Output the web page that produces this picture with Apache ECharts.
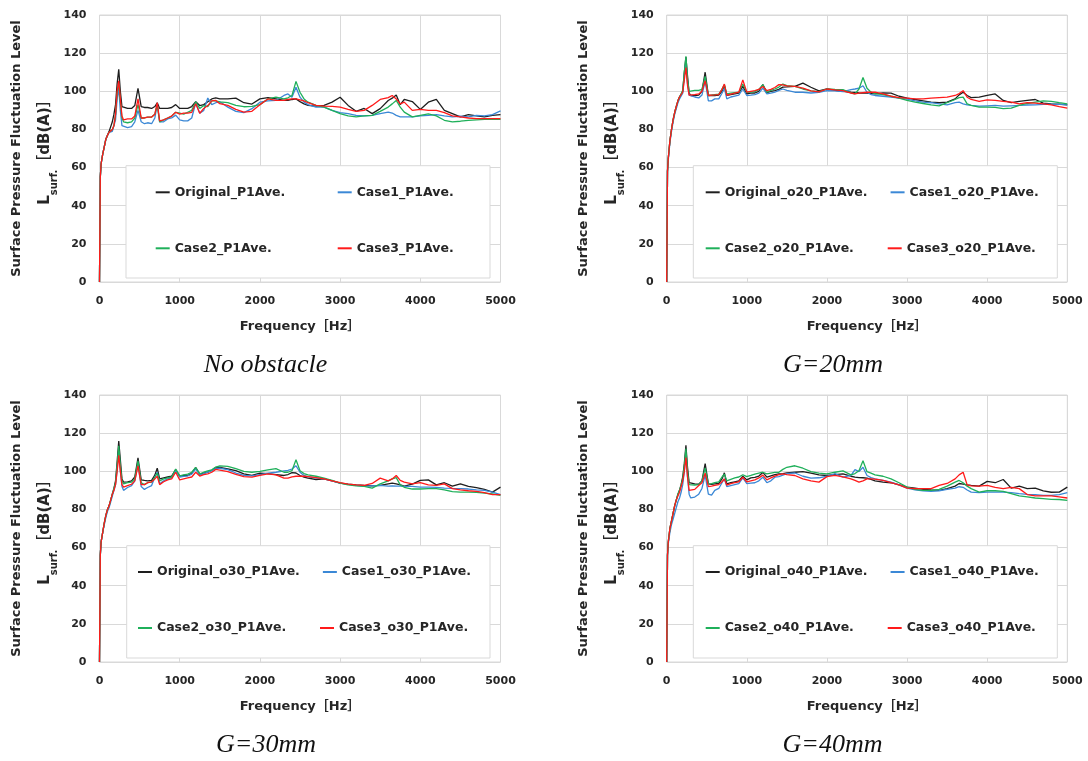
<!DOCTYPE html>
<html><head><meta charset="utf-8">
<script src="https://cdn.jsdelivr.net/npm/echarts@6.0.0/dist/echarts.min.js"></script>
<style>html,body{margin:0;padding:0;background:#fff}#c{width:1088px;height:761px}</style>
</head><body><div id="c"></div>
<script>
// ---------- DATA ----------
const FREQ = [0,10,20,40,60,80,100,120,140,160,180,200,
  220,240,260,280,300,350,400,440,480,520,560,600,650,690,720,750,800,850,900,950,1000,1050,1100,1150,1200,1250,1300,1350,1400,1450,1500,
  1600,1700,1800,1900,2000,2100,2200,2300,2350,2400,2450,2500,2550,2600,2700,2800,2900,3000,3100,3200,3300,3400,3500,3600,3650,3700,3750,3800,3900,4000,4100,4200,4300,4400,4500,4600,4700,4800,4900,5000];

const CAPTIONS = ['No obstacle','G=20mm','G=30mm','G=40mm'];
const NAMES_P1 = ['Original_P1Ave.','Case1_P1Ave.','Case2_P1Ave.','Case3_P1Ave.'];
const NAMES_P2 = ['Original_o20_P1Ave.','Case1_o20_P1Ave.','Case2_o20_P1Ave.','Case3_o20_P1Ave.'];
const NAMES_P3 = ['Original_o30_P1Ave.','Case1_o30_P1Ave.','Case2_o30_P1Ave.','Case3_o30_P1Ave.'];
const NAMES_P4 = ['Original_o40_P1Ave.','Case1_o40_P1Ave.','Case2_o40_P1Ave.','Case3_o40_P1Ave.'];

// Panel 1: No obstacle
const P1_ORIGINAL = [0,55,62,67,71,75,77,79,80,84,88,93,
  104,111.5,100,92,91,91,91,92.5,101.5,92,91.5,91.5,91,92,94,91,91,91,91.5,93,91,91,91,92,94.5,92.5,93,94.5,96,96.5,96,
  96,96.4,94,93.3,96,96.7,96,95.2,95.3,95.7,96,94.6,93.4,92.6,92.2,92.6,94.3,96.9,92.6,89.5,91,88.3,90.9,95.2,96.4,98.1,93,95.7,94.6,90.5,94.3,95.7,90,88.3,86.6,87.8,87.1,86.6,87.4,87.8];
const P1_CASE1 = [0,55,62,67,71,75,77,78.5,79,79,80,85,
  96,101.5,90,82,81.5,81,81.5,84,90,84,83,83.5,83,86,93,84,84,85.5,86,87.5,85,84.5,84.5,86,94,88.5,90,96.5,93,94,94.5,
  91.7,89.5,88.8,90.9,94.3,95,95.2,97.8,98.6,96.9,102.1,96.9,94.3,93,91.7,91.7,90,88.8,88.3,87.4,87.1,87.4,88.3,89.1,88.6,87.4,86.6,86.6,86.6,87.1,87.4,87.8,87.1,86.6,86.9,86.6,87.4,87.1,87.8,89.7];
const P1_CASE2 = [0,55,62,67,71,75,77,78.5,79,80,82,88,
  99,104,95,86,84,83.5,84,86,93,86,86,86.5,86.5,88,93,84,85,86,87,89,88.5,88,89,90,94.5,91,92.5,92,95,95,94.5,
  94,92.6,91.9,92.1,93,96,96.9,96,96.6,97.8,105.2,99.5,96,94.3,92.6,91.7,90,88.3,87.1,86.6,87.1,87.4,89.5,91.7,93.4,95.2,91.7,89.1,86.6,87.4,88.1,87.1,84.8,84,84.3,84.7,85,85.3,85.3,85.3];
const P1_CASE3 = [0,55,62,67,71,75,77,78.5,79,80,82,88,
  100,105.5,96,87,85,85.5,85.5,87,96,86,86,86.5,86.5,88,94,84.5,85,86,87,89,88,88.5,88.5,89,93.5,88.5,91,92.5,95,95.2,93.5,
  92.6,90.5,89.1,89.5,93,96,95.2,95.2,95.7,96,96,95.5,95,94,92.6,92.2,92.1,91.7,90.5,89.5,90,92.6,95.7,96.7,97.8,96,93.4,94.3,90,90.5,90,90,88.8,87.1,86.6,86,85.7,85.7,85.7,85.7];

// Panel 2: G=20mm
const P2_ORIGINAL = [0,58,65,74,80,85,89,92,95,97,98,100,
  110,118,108,99,97.8,97.8,98,100,110,97.8,97.8,97.8,98,100,103,97.8,98.3,98.6,99,102.6,98.6,99,99.1,100,103.5,99.3,100,100.3,101,102.2,102.3,
  102.6,104.3,102.1,100.2,101.2,100.5,100,99.5,99.4,99.1,99,99,98.8,98.6,99.1,99,97.4,96.4,95.7,95,94.3,94,94.3,96,98.1,99.5,97.8,96.7,96.9,97.8,98.6,95.2,94,94.7,95.2,95.7,93.8,93.4,93.3,92.9];
const P2_CASE1 = [0,58,64,73,79,84,88,91,94,96,97,99,
  108,116,104,98,97.8,97,96.5,98,105.5,95,95,96,96,99,101.5,96,97,97.5,98,101.2,97.8,98,98.3,99,101.7,98.6,99,99.5,100.5,101.2,100.5,
  99.5,99.5,99.1,99.5,100.3,100.2,99.8,100.9,101.2,101.6,102.9,99.5,98.3,97.8,97.4,96.9,96.4,95.9,95,94.3,94,93.4,92.9,94,94.3,93.4,92.9,92.6,92.2,92.4,92.6,92.2,92.4,92.6,92.8,92.9,93.1,93.3,93.1,92.9];
const P2_CASE2 = [0,58,65,74,80,85,89,92,95,97,98.5,100.5,
  110,118.4,106,100,101,100.5,100.5,101,107.8,97.8,98,98.3,98.5,101,103.5,98.6,99,99.3,99.5,103.8,99.5,99.6,99.8,101,103.4,99.5,100.5,101.2,102.2,103.8,103,
  102.6,101.2,100.2,99.8,101.2,101,100.9,99.1,98.6,101.2,107.2,101.6,99.5,98.8,98.3,97.4,96.4,95.2,94.3,93.6,92.9,92.4,94,95.7,96.7,96.9,93.4,92.6,91.7,91.7,91.6,90.9,91.2,92.6,93.6,94.3,95,94.7,94,93.4];
const P2_CASE3 = [0,58,65,74,80,85,89,92,95,97,98,99.5,
  106,112.4,103,98,97.8,98.3,98.6,100,105.5,97.8,98,98.1,98.3,101,103.8,97.8,98.5,99,99.5,106,99.5,100,100.3,101,102.5,100.3,101,102,103.5,103.4,102.8,
  102.6,101.6,100.2,99.7,101.2,100.7,100.3,99.1,98.6,99,99.3,99.5,99.5,99.5,98.6,97.4,96.7,96.4,96,96,96.4,96.7,96.9,97.8,98.8,100.3,96.9,95.7,94.7,95.5,95.2,94.7,94.3,93.4,94,93.8,93.4,92.9,91.9,91.2];

// Panel 3: G=30mm
const P3_ORIGINAL = [0,56,63,68,73,77,80,82,85,88,91,95,
  105,115.9,106,96,94.3,94.5,95,97,107,95.5,95.2,95,95.2,98,101.6,96,96.5,97,97.5,100.9,97.5,97.8,97.8,99,102,98.5,99,99.5,100.5,102,102,
  101.2,100.3,98.6,97.8,99,98.8,98.3,97.8,98.3,99.3,99.1,97.8,96.9,96.4,95.7,96,95,93.8,93.3,92.9,92.6,92.4,92.6,93.4,93.8,93.4,92.9,92.2,93.3,95.2,95.5,92.9,94,92.2,93.4,92.1,91.4,90.5,89.1,91.7];
const P3_CASE1 = [0,56,63,68,72,76,79,81,84,87,90,93,
  101,110.7,100,92,90,91.5,92.5,95,103.8,92,90.5,91.5,92.5,97,99.5,93.5,95,96,96.5,100.3,97,97.3,97.6,98.5,101.3,98,98.8,99.6,100.3,101.5,101.6,
  100.9,99.1,97.9,97.6,98.3,99,99.5,100.2,100.5,101.2,102.9,99.5,97.8,97.1,96.6,96,95,93.8,93.1,92.6,92.2,92.4,92.6,92.2,92.4,92.2,92.2,92.1,92.1,91.7,91.7,91.6,91.2,91,90.9,90.7,90.3,90,89.1,87.8];
const P3_CASE2 = [0,56,63,68,73,77,80,82,85,88,91,94,
  103,113.3,103,95,93.4,94,94.3,96,105.5,94,93,94,94.3,97,99,95,96,96.5,97,101.2,97.6,98.1,98.5,99.5,102,98.6,99.5,100.2,100.8,102.2,102.8,
  102.6,101.4,100,99.5,100,100.7,101.4,99.5,99.5,100.3,106,100.3,98.8,98.1,97.4,96.4,95.2,93.8,92.9,92.4,92.1,91.2,93.4,95,96,96.7,92.9,91.6,90.7,90.7,90.9,90.9,90.3,89.3,89.1,89.1,89,88.6,88.1,87.4];
const P3_CASE3 = [0,56,63,68,73,77,80,82,85,88,90,93,
  100,108.4,100,93,91.7,92.5,93.2,95,102.8,93,93,94,94.5,96,97.4,93,94.5,95.5,96,99.5,95.5,96,96.5,97,99.5,97.5,98.2,98.6,99.5,101,100.6,
  99.8,98.4,97.2,96.9,97.8,98.6,98.1,96.4,96.4,97.1,97.4,97.4,97.4,97.2,96.7,96,95,94,93.3,92.9,92.6,93.6,96.4,95,96,97.8,95.2,94.3,93.4,94,92.9,92.6,93.4,90.9,90.3,89.8,89.5,88.8,87.8,87.8];

// Panel 4: G=40mm
const P4_ORIGINAL = [0,56,63,70,74,78,82,85,88,90,93,97,
  104,113.6,102,94,93.4,93.4,93.2,95,104,93.4,93.2,93.4,93.6,96,99.2,93.4,94,94.5,95,97.4,95.5,96.5,96.8,97.5,99.4,96.9,97.6,98.3,98.6,98.8,99.2,
  99.5,99.8,99,98.1,97.8,98.3,98.6,97.4,96.9,96.7,96.6,96.4,95.7,95,94.3,94,92.9,91.7,91.2,90.5,90.2,90,90.9,92.2,93.6,93.3,92.9,92.6,92.2,94.7,94,95.7,91.2,92.2,90.9,91.2,89.7,89,89.1,91.7];
const P4_CASE1 = [0,56,62,68,72,75,78,81,84,86,89,93,
  100,109,97,88,86,86.5,88,91,98,88,87.5,90,91,94,96,92,92.5,93,93.5,96.5,93.5,93.8,94,95,96.9,94,95,96.9,97.2,98,98.8,
  99.1,97.4,96.4,96.6,97.4,98.8,96.9,97.8,100.9,99.8,102.1,97.8,96.7,96,95.2,94.3,92.9,91.2,90.3,89.8,89.5,89.8,90.5,91.2,91.9,91.6,90.2,89.1,88.8,89.1,89.1,89.1,88.8,88.3,87.9,87.8,87.4,87.4,87.8,88.8];
const P4_CASE2 = [0,56,63,70,74,78,82,85,88,90,93,96,
  103,111.9,100,93,92.6,92.8,93,95,101.8,93.4,93.5,94,94.5,97,98.5,95,95.8,96.5,97,98.2,97.2,97.8,98.5,99,99.5,98.6,99,99.4,99.5,101,102.1,
  102.9,101.6,99.8,99,98.6,99.5,100.2,98.1,98.8,100.3,105.5,99.8,99,98.1,97.4,96,94,91.7,90.5,90,90,90.5,92.2,94.3,95.2,94,92.2,90.9,89.1,89.8,89.8,89.5,88.3,87.1,86.6,86,85.7,85.3,85.2,84.8];
const P4_CASE3 = [0,56,63,70,74,78,82,85,87,89,92,95,
  100,107.2,97,90,89.1,90.5,92.5,94,99,92,92.2,92.6,93,94.5,96,92.8,93.5,94,94.5,96.9,94.5,95,95.5,96.5,98,95.5,96.5,97.5,98.3,98.6,98.2,
  97.8,96,95,94.3,97.2,97.8,97.1,96,95.2,94.3,95,96,96,95.9,95.2,94.1,92.9,91.2,90.9,90.9,90.9,92.6,93.6,96,98.1,99.5,92.9,92.4,92.2,92.6,91.6,90.9,91.6,90.9,87.8,87.1,87.1,87.1,86.6,86];

// ---------- LAYOUT / STYLE ----------
const COLORS = ['#1e1e1e', '#3b88d6', '#1fb05a', '#ff1a1a'];
const FONT = '"DejaVu Sans", "Noto Sans CJK JP", sans-serif';
const TEXT_COLOR = '#262626';
const GRIDS = [
  {left: 99.5, top: 15, width: 401, height: 267},
  {left: 666.7, top: 15, width: 400.6, height: 267},
  {left: 99.5, top: 395, width: 401, height: 267},
  {left: 666.7, top: 395, width: 400.6, height: 267}
];
const LEGEND_BOX = [
  {x: 126, y: 165.7, w: 364, h: 112.3},
  {x: 693.3, y: 165.7, w: 364, h: 112.3},
  {x: 126.7, y: 545.7, w: 363.3, h: 112.3},
  {x: 693.3, y: 545.7, w: 364, h: 112.3}
];
const LEGEND_POS = [
  {left: 155.7, top: 175.8},
  {left: 705.7, top: 175.8},
  {left: 138, top: 555.5},
  {left: 705.7, top: 555.5}
];
const CAPTION_POS = [
  {x: 265.5, y: 365}, {x: 833, y: 365}, {x: 266, y: 745}, {x: 832.5, y: 745}
];

const PANEL_NAMES = [NAMES_P1, NAMES_P2, NAMES_P3, NAMES_P4];
const PANEL_DATA = [
  [P1_ORIGINAL, P1_CASE1, P1_CASE2, P1_CASE3],
  [P2_ORIGINAL, P2_CASE1, P2_CASE2, P2_CASE3],
  [P3_ORIGINAL, P3_CASE1, P3_CASE2, P3_CASE3],
  [P4_ORIGINAL, P4_CASE1, P4_CASE2, P4_CASE3]
];

const grid = [], xAxis = [], yAxis = [], series = [], legend = [], graphic = [];
const axisLabel = {fontFamily: FONT, fontSize: 11, fontWeight: 'bold', color: TEXT_COLOR};
const splitLine = {show: true, lineStyle: {color: '#d9d9d9', width: 1}};

for (let p = 0; p < 4; p++) {
  grid.push(Object.assign({show: true, borderColor: '#d9d9d9', borderWidth: 1, containLabel: false}, GRIDS[p]));
  xAxis.push({
    type: 'value', gridIndex: p, min: 0, max: 5000, interval: 1000,
    axisLine: {show: false}, axisTick: {show: false}, splitLine,
    axisLabel: Object.assign({margin: 14, formatter: v => String(v)}, axisLabel),
    name: 'Frequency［Hz］', nameLocation: 'middle', nameGap: 38,
    nameTextStyle: {fontFamily: FONT, fontSize: 13, fontWeight: 'bold', color: TEXT_COLOR}
  });
  yAxis.push({
    type: 'value', gridIndex: p, min: 0, max: 140, interval: 20,
    axisLine: {show: false}, axisTick: {show: false}, splitLine,
    axisLabel: Object.assign({margin: 13}, axisLabel),
    name: 'Surface Pressure Fluctuation Level\n{m|L}{s|surf.}{m|［dB(A)］}',
    nameLocation: 'middle', nameRotate: 90, nameGap: 35,
    nameTextStyle: {
      fontFamily: FONT, fontSize: 13, fontWeight: 'bold', color: TEXT_COLOR, lineHeight: 29,
      rich: {
        m: {fontFamily: FONT, fontSize: 15, fontWeight: 'bold', color: TEXT_COLOR, lineHeight: 29},
        s: {fontFamily: FONT, fontSize: 10, fontWeight: 'bold', color: TEXT_COLOR, lineHeight: 20, verticalAlign: 'bottom'}
      }
    }
  });
  const names = PANEL_NAMES[p];
  PANEL_DATA[p].forEach((vals, k) => {
    series.push({
      type: 'line', name: names[k], xAxisIndex: p, yAxisIndex: p,
      data: FREQ.map((f, i) => [f, vals[i]]),
      showSymbol: false, symbol: 'none', smooth: false,
      lineStyle: {width: 1.3, color: COLORS[k]}, itemStyle: {color: COLORS[k]},
      z: 2
    });
  });
  legend.push({
    data: names, left: LEGEND_POS[p].left, top: LEGEND_POS[p].top,
    width: 345, orient: 'horizontal', padding: 0, itemGap: 23,
    icon: 'rect', itemWidth: 14, itemHeight: 2, selectedMode: false,
    textStyle: {fontFamily: FONT, fontSize: 12.5, fontWeight: 'bold', color: TEXT_COLOR,
      width: 140, overflow: 'none', lineHeight: 33}
  });
  const b = LEGEND_BOX[p];
  graphic.push({type: 'rect', z: 3, shape: {x: b.x, y: b.y, width: b.w, height: b.h},
    style: {fill: '#ffffff', stroke: '#d9d9d9', lineWidth: 1}});
  graphic.push({type: 'text', z: 3, x: CAPTION_POS[p].x, y: CAPTION_POS[p].y,
    style: {text: CAPTIONS[p], font: 'italic 26px "Liberation Serif", "DejaVu Serif", serif',
      fill: '#111', textAlign: 'center', textVerticalAlign: 'middle'}});
}

const chart = echarts.init(document.getElementById('c'), null, {renderer: 'canvas'});
chart.setOption({
  animation: false, backgroundColor: '#ffffff',
  grid, xAxis, yAxis, series, legend, graphic
});
</script></body></html>
